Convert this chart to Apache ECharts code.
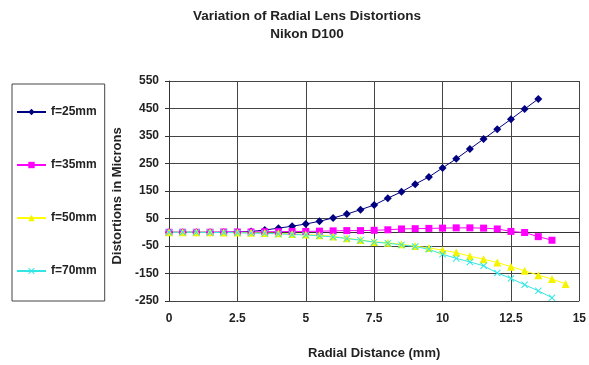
<!DOCTYPE html>
<html>
<head>
<meta charset="utf-8">
<script src="https://cdn.jsdelivr.net/npm/echarts@6/dist/echarts.min.js"></script>
<style>
  html, body { margin: 0; padding: 0; background: #fff; }
  #chart { width: 589px; height: 365px; }
</style>
</head>
<body>
<div id="chart"></div>
<script>
// radial distance step is 0.5 mm, each series starts at 0
const step = 0.5;
const f25 = [0, 0, 0, 0, 0, 1, 3, 8, 15, 22, 30, 40, 52, 66, 82, 99, 124, 147, 175, 201, 234, 267, 303, 339, 375, 411, 448, 485];
const f35 = [0, 0, 0, 0, 1, 1, 1, 2, 2, 3, 3, 4, 5, 6, 6, 7, 9, 12, 13, 14, 15, 16, 16, 15, 12, 3, -1, -16, -29];
const f50 = [0, 0, 0, 0, -1, -1, -2, -3, -4, -6, -8, -11, -15, -22, -28, -35, -38, -44, -50, -57, -65, -74, -87, -98, -110, -125, -140, -156, -170, -188];
const f70 = [0, 0, 0, -1, -1, -2, -3, -4, -6, -8, -10, -13, -17, -23, -29, -36, -40, -46, -52, -62, -80, -95, -108, -122, -148, -168, -191, -213, -238];

const seriesNames = ["f=25mm", "f=35mm", "f=50mm", "f=70mm"];

// [x, y] pairs
function toPairs(arr) {
  return arr.map((v, i) => [i * step, v]);
}

const crossSymbol = "path://M0,1L1,0L5,4L9,0L10,1L6,5L10,9L9,10L5,6L1,10L0,9L4,5Z";
const font = "Liberation Sans, Arial, sans-serif";

const chart = echarts.init(document.getElementById("chart"), null, { renderer: "canvas" });

chart.setOption({
  animation: false,
  backgroundColor: "#fff",
  title: {
    text: "Variation of Radial Lens Distortions\nNikon D100",
    left: 302,
    textAlign: "center",
    top: 2,
    textStyle: {
      fontFamily: font,
      fontSize: 13.5,
      fontWeight: "bold",
      color: "#222",
      lineHeight: 18,
    },
  },
  legend: {
    orient: "vertical",
    left: 12,
    top: 84,
    padding: [22, 8, 24, 4],
    itemGap: 41,
    itemWidth: 29,
    itemHeight: 8,
    borderColor: "#444",
    borderWidth: 1,
    textStyle: {
      fontFamily: font,
      fontSize: 12,
      fontWeight: "bold",
      color: "#222",
    },
    data: seriesNames,
  },
  grid: {
    left: 169,
    right: 4,
    top: 81,
    bottom: 63,
  },
  xAxis: {
    type: "value",
    min: 0,
    max: 15,
    interval: 2.5,
    name: "Radial Distance (mm)",
    nameLocation: "middle",
    nameGap: 46,
    nameTextStyle: {
      fontFamily: font,
      fontSize: 13,
      fontWeight: "bold",
      color: "#222",
    },
    axisLine: { lineStyle: { color: "#333", width: 1 } },
    axisTick: { show: true, length: 4, lineStyle: { color: "#333" } },
    axisLabel: {
      fontFamily: font,
      fontSize: 12,
      fontWeight: "bold",
      color: "#222",
      margin: 12,
    },
    splitLine: { show: true, lineStyle: { color: "#444", width: 1 } },
  },
  yAxis: {
    type: "value",
    min: -250,
    max: 550,
    interval: 100,
    name: "Distortions in Microns",
    nameLocation: "middle",
    nameGap: 45,
    nameTextStyle: {
      fontFamily: font,
      fontSize: 13,
      fontWeight: "bold",
      color: "#222",
      padding: [0, 10, 0, 0],
    },
    axisLine: { show: true, lineStyle: { color: "#333", width: 1 } },
    axisTick: { show: true, length: 4, lineStyle: { color: "#333" } },
    axisLabel: {
      fontFamily: font,
      fontSize: 12,
      fontWeight: "bold",
      color: "#222",
      margin: 10,
    },
    splitLine: { show: true, lineStyle: { color: "#444", width: 1 } },
  },
  series: [
    {
      name: seriesNames[0],
      type: "line",
      data: toPairs(f25),
      symbol: "diamond",
      symbolSize: 8,
      lineStyle: { color: "#000080", width: 1 },
      itemStyle: { color: "#000080" },
    },
    {
      name: seriesNames[1],
      type: "line",
      data: toPairs(f35),
      symbol: "rect",
      symbolSize: 7,
      lineStyle: { color: "#ff00ff", width: 1 },
      itemStyle: { color: "#ff00ff" },
    },
    {
      name: seriesNames[2],
      type: "line",
      data: toPairs(f50),
      symbol: "triangle",
      symbolSize: 8,
      lineStyle: { color: "#ffff00", width: 1 },
      itemStyle: { color: "#f4f400" },
    },
    {
      name: seriesNames[3],
      type: "line",
      data: toPairs(f70),
      symbol: crossSymbol,
      symbolSize: 7,
      lineStyle: { color: "#33e6e6", width: 1 },
      itemStyle: { color: "#33e6e6" },
    },
  ],
});
</script>
</body>
</html>
